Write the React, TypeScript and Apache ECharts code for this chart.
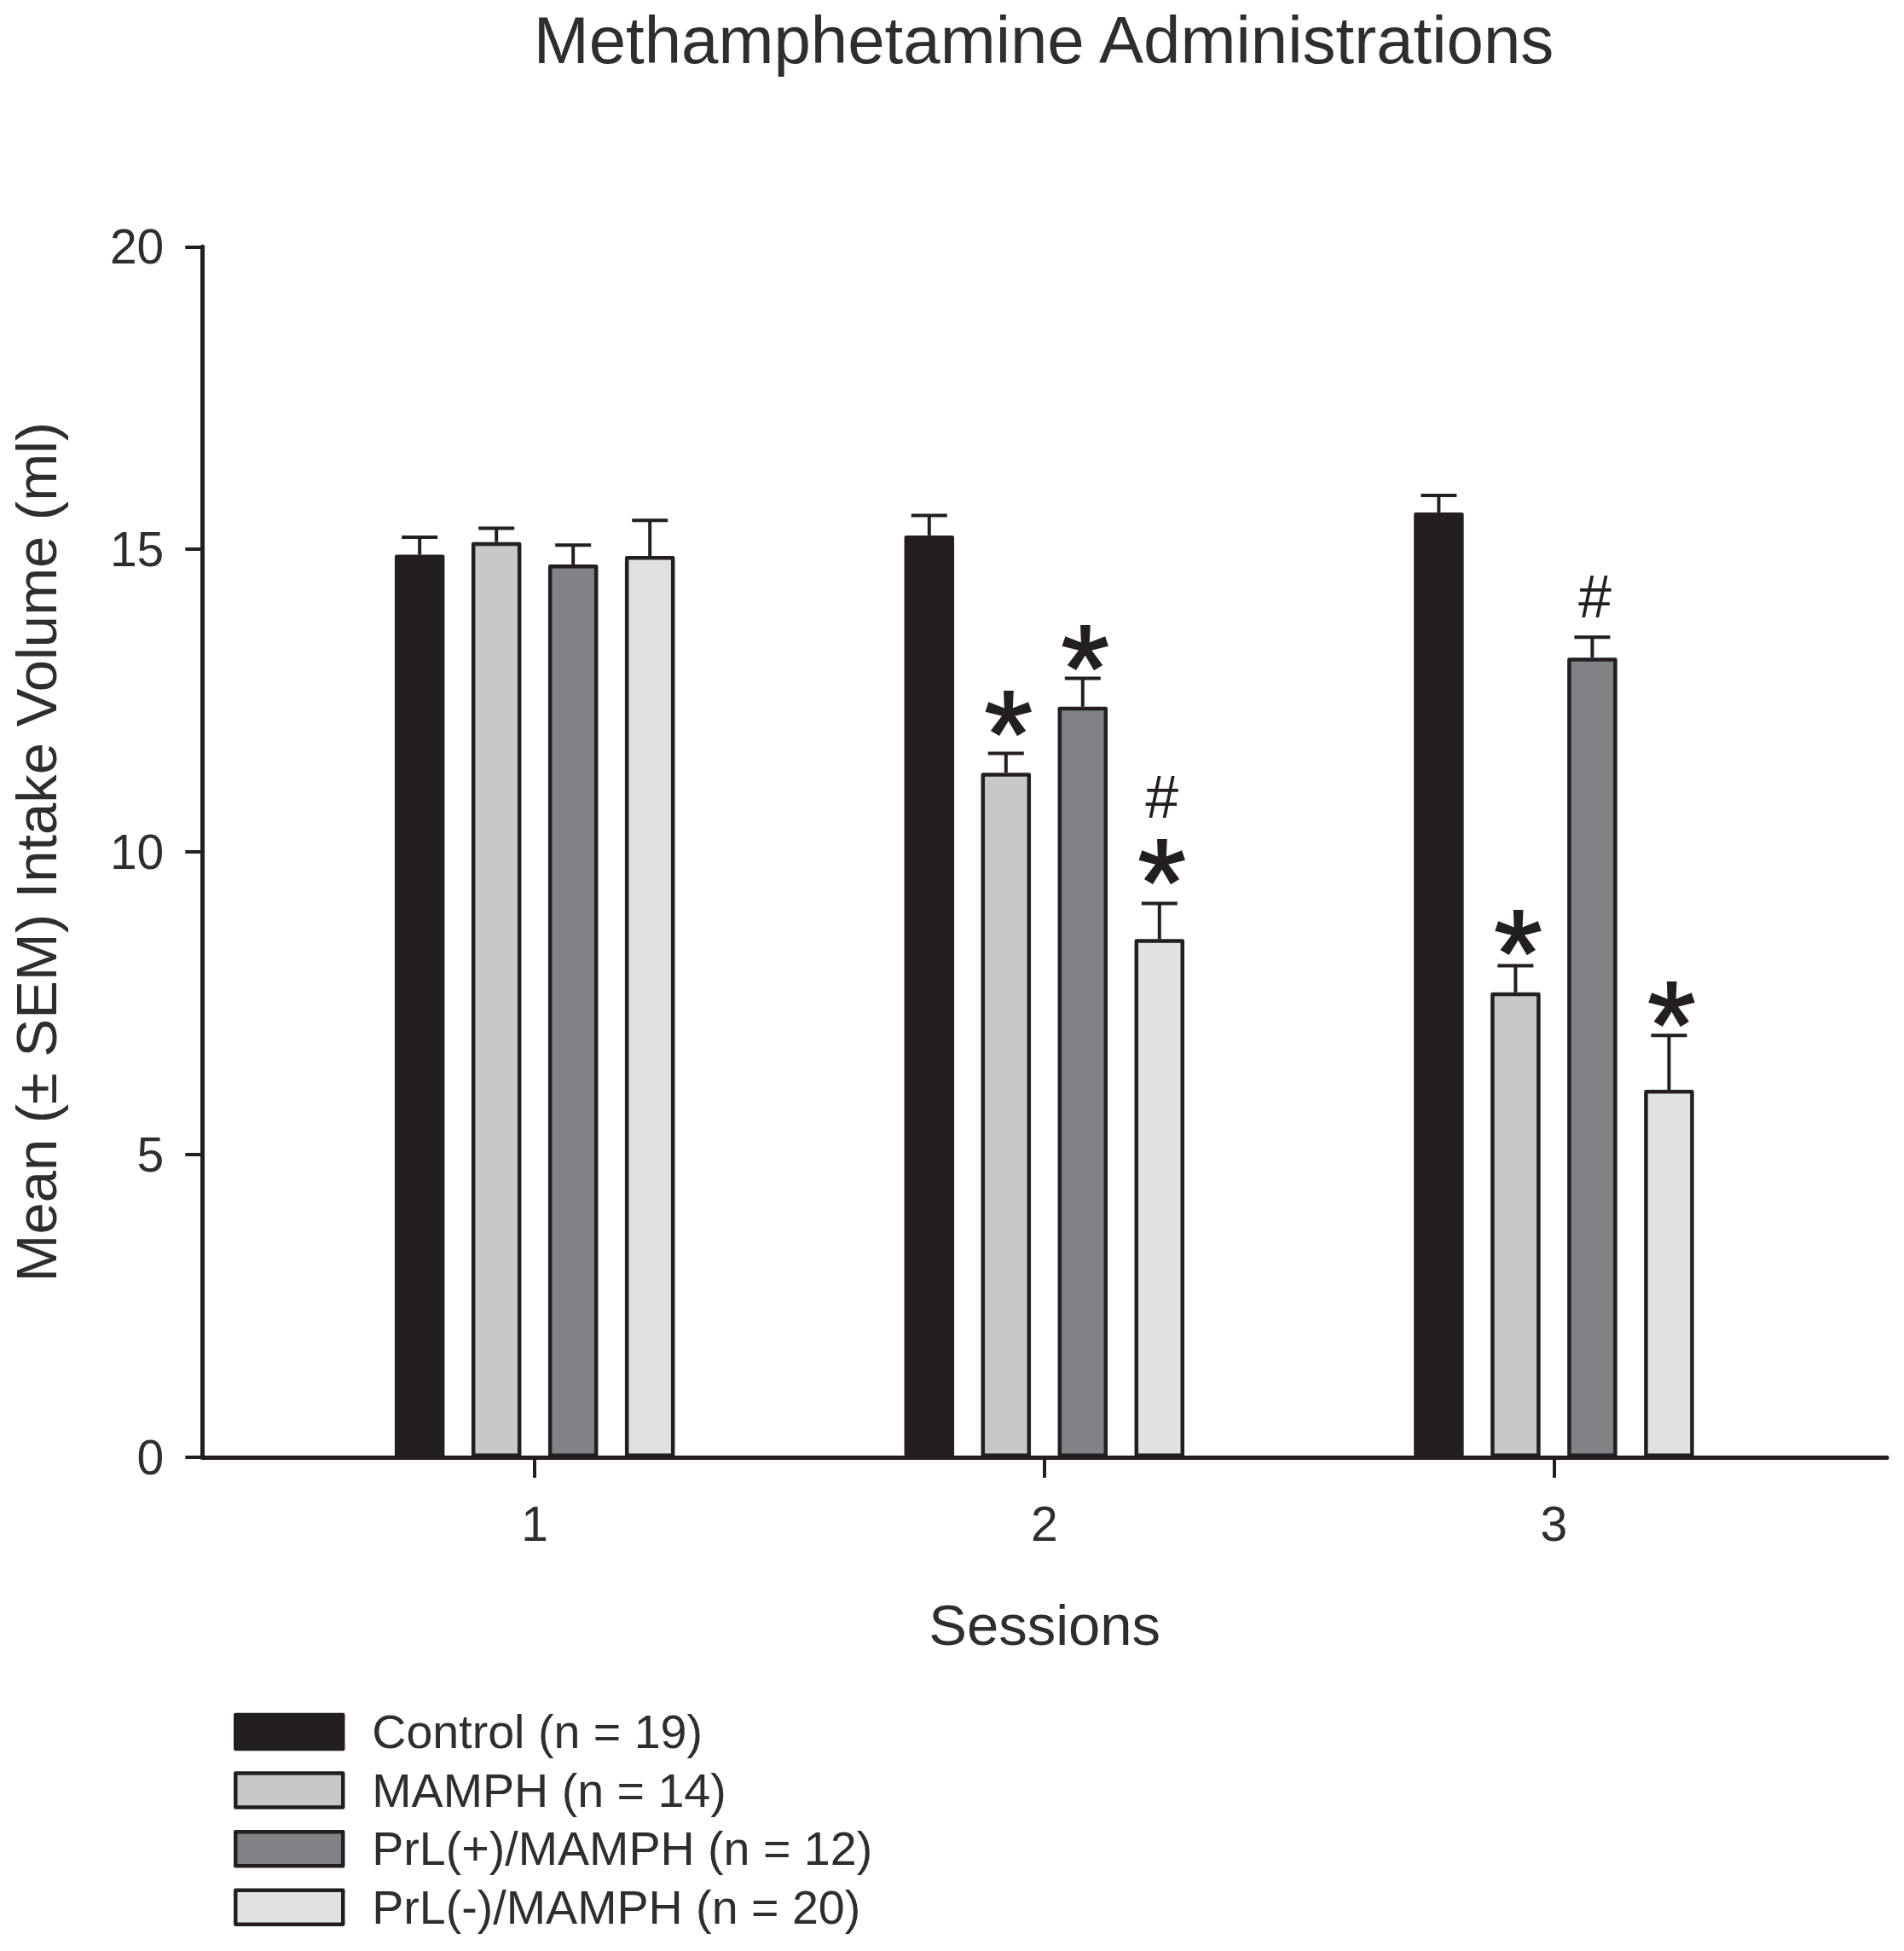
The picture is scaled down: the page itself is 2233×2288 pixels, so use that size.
import React, { useEffect, useRef } from 'react';
import * as echarts from 'echarts';

const sessions = [1, 2, 3];
const groups = ['Control (n = 19)', 'MAMPH (n = 14)', 'PrL(+)/MAMPH (n = 12)', 'PrL(-)/MAMPH (n = 20)'];
const colors = ['#231f20', '#c7c8ca', '#808285', '#e0e1e2'];

const controlMean = [14.91, 15.23, 15.61];
const mamphMean = [15.12, 11.31, 7.68];
const prlPlusMean = [14.75, 12.4, 13.21];
const prlMinusMean = [14.89, 8.56, 6.07];
const means = [controlMean, mamphMean, prlPlusMean, prlMinusMean];

// top of each error bar
const controlUpper = [15.2, 15.56, 15.89];
const mamphUpper = [15.35, 11.63, 8.12];
const prlPlusUpper = [15.07, 12.87, 13.55];
const prlMinusUpper = [15.48, 9.15, 6.97];
const uppers = [controlUpper, mamphUpper, prlPlusUpper, prlMinusUpper];

// session, group index, value, mark
const marks: [number, number, number, string][] = [
  [2, 1, 12.27, '*'],
  [2, 2, 13.35, '*'],
  [2, 3, 9.82, '*'],
  [2, 3, 10.88, '#'],
  [3, 1, 8.65, '*'],
  [3, 2, 14.18, '#'],
  [3, 3, 7.46, '*'],
];

const yTicks = 5;
const ink = '#231f20';
const textColor = '#2e2e2e';
const font = '"Liberation Sans", Arial, sans-serif';
const barWidth = 58.5;
const pitch = 90;

export default function App() {
  const ref = useRef<HTMLDivElement>(null);
  useEffect(() => {
    if (!ref.current) return;
    const chart = echarts.init(ref.current, null, { renderer: 'svg' });

    const barSeries = groups.map((name, g) => ({
      name,
      type: 'bar',
      barWidth,
      barGap: `${((pitch - barWidth) / barWidth) * 100}%`,
      z: 3,
      itemStyle: { color: colors[g], borderColor: ink, borderWidth: 4.5, borderJoin: 'round' },
      data: sessions.map((s, i) => [s, means[g][i]]),
    }));

    const errorSeries = groups.map((name, g) => ({
      name: name + ' SEM',
      type: 'custom',
      z: 2,
      data: sessions.map((s, i) => [s, means[g][i], uppers[g][i]]),
      renderItem: (_: any, api: any) => {
        const base = api.coord([api.value(0), api.value(1)]);
        const top = api.coord([api.value(0), api.value(2)]);
        const x = base[0] + (g - 1.5) * pitch;
        const style = { stroke: ink, lineWidth: 4, fill: 'none' };
        return {
          type: 'group',
          children: [
            { type: 'line', shape: { x1: x, y1: base[1], x2: x, y2: top[1] }, style },
            { type: 'line', shape: { x1: x - 21, y1: top[1], x2: x + 21, y2: top[1] }, style },
          ],
        };
      },
    }));

    const markSeries = {
      name: 'marks',
      type: 'custom',
      z: 4,
      data: marks.map((m) => [m[0], m[2], m[1], m[3]]),
      renderItem: (_: any, api: any) => {
        const p = api.coord([api.value(0), api.value(1)]);
        const m = marks[_.dataIndex];
        const isStar = m[3] === '*';
        return {
          type: 'text',
          x: p[0] + (m[1] - 1.5) * pitch + 3,
          y: p[1] + (isStar ? 23 : -2),
          style: {
            text: m[3],
            fontFamily: font,
            fontSize: isStar ? 145 : 70,
            fontWeight: 'normal',
            fill: ink,
            stroke: isStar ? ink : undefined,
            lineWidth: isStar ? 2 : 0,
            textAlign: 'center',
            textVerticalAlign: 'middle',
          },
        };
      },
    };

    chart.setOption({
      animation: false,
      backgroundColor: '#ffffff',
      title: {
        text: 'Methamphetamine Administrations',
        left: 1219,
        top: 3,
        textAlign: 'center',
        textStyle: { fontFamily: font, fontSize: 78, fontWeight: 'normal', color: textColor },
      },
      legend: {
        data: groups,
        orient: 'vertical',
        left: 274,
        top: 2003,
        padding: 0,
        icon: 'rect',
        itemWidth: 126,
        itemHeight: 40,
        itemGap: 12.6,
        itemStyle: { borderWidth: 4.5, borderColor: ink },
        textStyle: { fontFamily: font, fontSize: 55.6, color: textColor, padding: [0, 0, 0, 29] },
      },
      grid: { left: 237.3, top: 289.3, width: 1975.7, height: 1419.7, outerBoundsMode: 'none' },
      xAxis: {
        type: 'value',
        min: 0.3476,
        max: 3.6536,
        name: 'Sessions',
        nameLocation: 'middle',
        nameGap: 163,
        nameTextStyle: { fontFamily: font, fontSize: 67, color: textColor },
        splitLine: { show: false },
        axisLine: { lineStyle: { color: ink, width: 5 } },
        axisTick: { length: 24, customValues: sessions, lineStyle: { color: ink, width: 4 } },
        axisLabel: { customValues: sessions, margin: 49, fontFamily: font, fontSize: 57, color: textColor },
      },
      yAxis: {
        type: 'value',
        min: 0,
        max: 20,
        interval: yTicks,
        name: 'Mean (± SEM) Intake Volume (ml)',
        nameLocation: 'middle',
        nameRotate: 90,
        nameGap: 161,
        nameTextStyle: { fontFamily: font, fontSize: 67, color: textColor },
        splitLine: { show: false },
        axisLine: { show: true, lineStyle: { color: ink, width: 5 } },
        axisTick: { show: true, length: 20, lineStyle: { color: ink, width: 4 } },
        axisLabel: { margin: 45, fontFamily: font, fontSize: 57, color: textColor },
      },
      series: [...errorSeries, ...barSeries, markSeries],
    });
    return () => chart.dispose();
  }, []);
  return <div ref={ref} style={{ position: 'absolute', left: 0, top: 0, width: 2233, height: 2288 }} />;
}
